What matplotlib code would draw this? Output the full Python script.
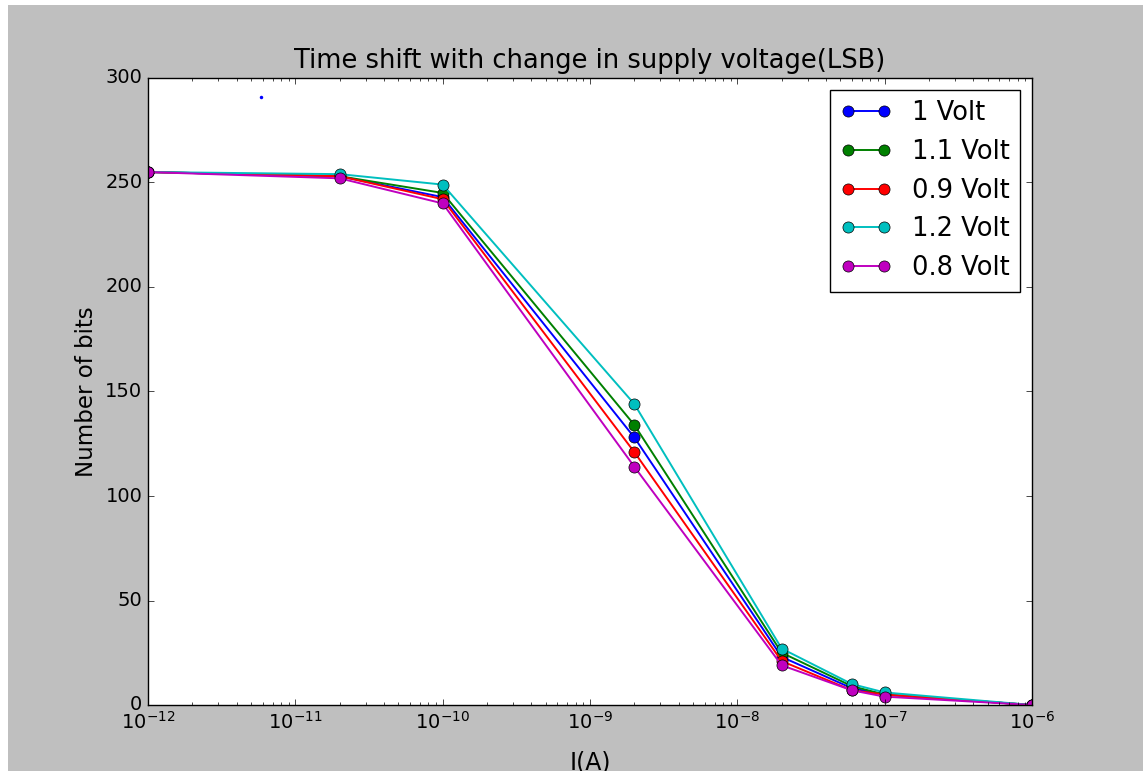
import matplotlib
matplotlib.use("Agg")
import matplotlib.pyplot as plt
from matplotlib.patches import Rectangle

plt.style.use("classic")

# Bias current (A)
current = [1e-12, 2e-11, 1e-10, 2e-9, 2e-8, 6e-8, 1e-7, 1e-6]

# Number of bits for each supply voltage
bits_1v0 = [255, 253, 243, 128, 23, 8, 5, 0]
bits_1v1 = [255, 253, 245, 134, 25, 9, 5, 0]
bits_0v9 = [255, 253, 242, 121, 21, 7, 5, 0]
bits_1v2 = [255, 254, 249, 144, 27, 10, 6, 0]
bits_0v8 = [255, 252, 240, 114, 19, 7, 4, 0]

labels = ["1 Volt", "1.1 Volt", "0.9 Volt", "1.2 Volt", "0.8 Volt"]
colors = ["b", "g", "r", "c", "m"]

# Stray single sample
stray_x = [5.85e-12]
stray_y = [291]

fig = plt.figure(figsize=(11.47, 7.71), dpi=100, facecolor="white")
fig.patches.append(Rectangle((8 / 1147, 0), (1143 - 8) / 1147, (771 - 5) / 771,
                             transform=fig.transFigure, facecolor="0.75",
                             edgecolor="none", zorder=-10))

ax = fig.add_axes([148 / 1147, (771 - 705) / 771, (1032 - 148) / 1147, (705 - 78) / 771])

for ys, lab, col in zip([bits_1v0, bits_1v1, bits_0v9, bits_1v2, bits_0v8], labels, colors):
    ax.plot(current, ys, "o-", color=col, label=lab, markersize=8, linewidth=1.4)

ax.plot(stray_x, stray_y, "o", color="b", markersize=2.5, markeredgewidth=0)

ax.set_xscale("log")
ax.set_xlim(1e-12, 1e-6)
ax.set_ylim(0, 300)

ax.set_title("Time shift with change in supply voltage(LSB)", fontsize=18.5, y=1.005)
ax.set_xlabel("I(A)", fontsize=17, labelpad=13)
ax.set_ylabel("Number of bits", fontsize=16.5, labelpad=5)
ax.tick_params(labelsize=14)

leg = ax.legend(loc="upper right", fontsize=18.5, numpoints=2, borderaxespad=0.45)

fig.savefig("out.png", dpi=100, facecolor=fig.get_facecolor())
